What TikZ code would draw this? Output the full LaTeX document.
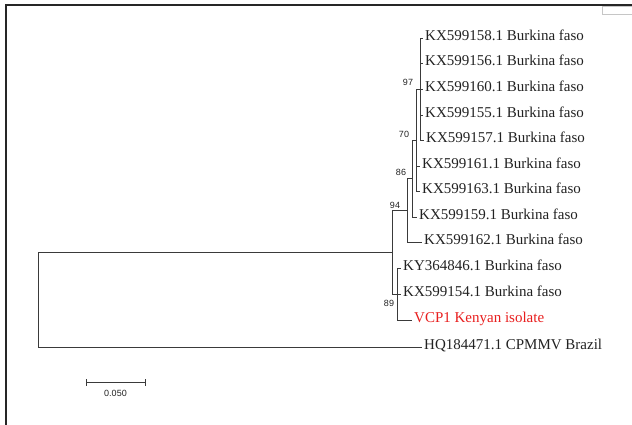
\documentclass[tikz,border=0pt]{standalone}
\usepackage{fontspec}
\setmainfont{Liberation Serif}
\newfontfamily\labfont{Liberation Sans}
\definecolor{linec}{HTML}{3A3A3A}
\definecolor{textc}{HTML}{222222}
\definecolor{redtxt}{HTML}{E81E1E}
\begin{document}
\begin{tikzpicture}[x=1pt,y=-1pt,
  branch/.style={draw=linec,line width=0.9pt},
  leaf/.style={anchor=west,inner xsep=2pt,inner ysep=0pt,text=textc,
    font=\fontsize{15}{16}\selectfont,text height=0.95ex,text depth=0.05ex},
  boot/.style={font=\labfont\fontsize{9}{10}\selectfont,text=textc,inner sep=0pt},
  frame/.style={draw=black!85,line width=2pt}]
\useasboundingbox (0,0) rectangle (632,425);
% frame
\draw[frame] (6,425) -- (6,5.5) -- (632,5.5);
\draw[draw=gray!45,line width=0.6pt] (602,6.5) rectangle (634,14);
% leaves
\node[leaf] (L1) at (423,38) {KX599158.1 Burkina faso};
\node[leaf] (L2) at (423,63) {KX599156.1 Burkina faso};
\node[leaf] (L3) at (423,89) {KX599160.1 Burkina faso};
\node[leaf] (L4) at (423,115) {KX599155.1 Burkina faso};
\node[leaf] (L5) at (424,140) {KX599157.1 Burkina faso};
\node[leaf] (L6) at (420,166) {KX599161.1 Burkina faso};
\node[leaf] (L7) at (420,191) {KX599163.1 Burkina faso};
\node[leaf] (L8) at (417,217) {KX599159.1 Burkina faso};
\node[leaf] (L9) at (422,242) {KX599162.1 Burkina faso};
\node[leaf] (L10) at (401,268) {KY364846.1 Burkina faso};
\node[leaf] (L11) at (401,294) {KX599154.1 Burkina faso};
\node[leaf,text=redtxt] (L12) at (412,320) {VCP1 Kenyan isolate};
\node[leaf] (L13) at (422,347) {HQ184471.1 CPMMV Brazil};
% internal nodes
\coordinate (n97) at (420,89);
\coordinate (n70) at (416,140);
\coordinate (n86) at (412,178.5);
\coordinate (n94) at (407,210);
\coordinate (nQ) at (392,252);
\coordinate (n89) at (397,294);
\coordinate (root) at (38,300);
% branches
\foreach \c in {L1,L2,L3,L4,L5} \draw[branch] (n97) |- (\c.west);
\draw[branch] (n70) |- (n97);
\draw[branch] (n70) |- (L6.west);
\draw[branch] (n70) |- (L7.west);
\draw[branch] (n86) |- (n70);
\draw[branch] (n86) |- (L8.west);
\draw[branch] (n94) |- (n86);
\draw[branch] (n94) |- (L9.west);
\draw[branch] (nQ) |- (n94);
\draw[branch] (nQ) |- (n89);
\foreach \c in {L10,L11,L12} \draw[branch] (n89) |- (\c.west);
\draw[branch] (root) |- (nQ);
\draw[branch] (root) |- (L13.west);
% bootstrap labels
\node[boot] (b97) at (408,82) {97};
\node[boot] (b70) at (404,134) {70};
\node[boot] (b86) at (401,172) {86};
\node[boot] (b94) at (395,205) {94};
\node[boot] (b89) at (389,303) {89};
% scale bar
\coordinate (s1) at (86,382);
\coordinate (s2) at (145,382);
\draw[branch] (s1) -- (s2);
\draw[branch] ([yshift=-3.5]s1) -- ([yshift=3.5]s1);
\draw[branch] ([yshift=-3.5]s2) -- ([yshift=3.5]s2);
\node[boot] (sl) at (115.5,393) {0.050};
\end{tikzpicture}
\end{document}
